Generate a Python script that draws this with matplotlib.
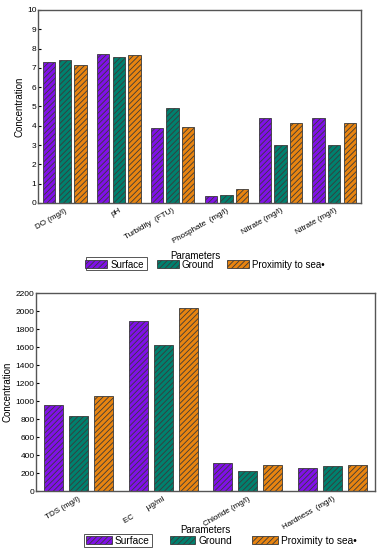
import matplotlib
matplotlib.use('Agg')
import matplotlib.pyplot as plt
from matplotlib.patches import Patch, Rectangle
import matplotlib.transforms as mtrans
import numpy as np

plt.rcParams['font.family'] = ['Liberation Sans', 'DejaVu Sans']
plt.rcParams['hatch.linewidth'] = 0.6

series = ['Surface', 'Ground', 'Proximity to sea']
colors = ['#8010e8', '#00806e', '#e88410']

params_1 = ['DO (mg/l)', 'pH', 'Turbidity  (FTU)', 'Phosphate  (mg/l)', 'Nitrate (mg/l)', 'Nitrate (mg/l)']
surface_1 = [7.3, 7.72, 3.9, 0.35, 4.42, 4.42]
ground_1 = [7.42, 7.57, 4.9, 0.4, 3.0, 3.0]
sea_1 = [7.15, 7.68, 3.95, 0.7, 4.15, 4.15]

params_2 = ['TDS (mg/l)', 'EC       \u00b5g/ml', 'Chloride (mg/l)', 'Hardness  (mg/l)']
surface_2 = [960, 1890, 310, 255]
ground_2 = [830, 1620, 220, 280]
sea_2 = [1060, 2040, 295, 295]

fig = plt.figure(figsize=(3.83, 5.5), dpi=100)
ax1 = fig.add_axes([0.099, 0.631, 0.844, 0.351])
ax2 = fig.add_axes([0.094, 0.107, 0.885, 0.360])


def draw(ax, labels, vals, ymax, step, offs, width, shift):
    x = np.arange(len(labels))
    for i, v in enumerate(vals):
        ax.bar(x + (i - 1) * offs, v, width, color=colors[i], edgecolor='#3a3a3a',
               hatch='//////', linewidth=0.6)
    ax.set_xlim(-0.5, len(labels) - 0.5)
    ax.set_ylim(0, ymax)
    ax.set_yticks(np.arange(0, ymax + 1, step))
    ax.set_xticks(x)
    ax.set_xticklabels(labels, rotation=30, ha='right', va='top', rotation_mode='anchor', fontsize=5.8)
    off = mtrans.ScaledTranslation(shift / 100, 0, fig.dpi_scale_trans)
    for t in ax.get_xticklabels():
        t.set_transform(t.get_transform() + off)
    ax.tick_params(axis='x', length=0, pad=3)
    ax.tick_params(axis='y', labelsize=6, length=2, direction='in', pad=1)
    for s in ax.spines.values():
        s.set_color('#555555')
        s.set_linewidth(1.0)
    ax.set_ylabel('Concentration', fontsize=7, labelpad=2)


draw(ax1, params_1, [surface_1, ground_1, sea_1], 10, 1, 0.29, 0.23, 7)
draw(ax2, params_2, [surface_2, ground_2, sea_2], 2200, 200, 0.295, 0.225, 2)

handles = [Patch(facecolor=c, edgecolor='#3a3a3a', hatch='//////', linewidth=0.6) for c in colors]
labs = ['Surface', 'Ground', 'Proximity to sea\u2022']

fig.text(0.51, 0.535, 'Parameters', ha='center', va='center', fontsize=7)
fig.legend(handles, labs, loc='center', bbox_to_anchor=(0.535, 0.519), ncol=3, frameon=False,
           fontsize=7, handlelength=2.3, handleheight=0.8, columnspacing=1.3, handletextpad=0.3,
           borderaxespad=0, borderpad=0)
fig.add_artist(Rectangle((86 / 383, 1 - 270 / 550), 61 / 383, 13 / 550, transform=fig.transFigure,
                         fill=False, edgecolor='#555555', linewidth=0.7))

fig.text(0.535, 0.036, 'Parameters', ha='center', va='center', fontsize=7)
fig.legend(handles, labs, loc='center', bbox_to_anchor=(0.578, 0.017), ncol=3, frameon=False,
           fontsize=7.3, handlelength=2.5, handleheight=0.8, columnspacing=2.0, handletextpad=0.3,
           borderaxespad=0, borderpad=0)
fig.add_artist(Rectangle((84 / 383, 1 - 547 / 550), 68 / 383, 13 / 550, transform=fig.transFigure,
                         fill=False, edgecolor='#555555', linewidth=0.7))

plt.savefig('out.png', dpi=100)
